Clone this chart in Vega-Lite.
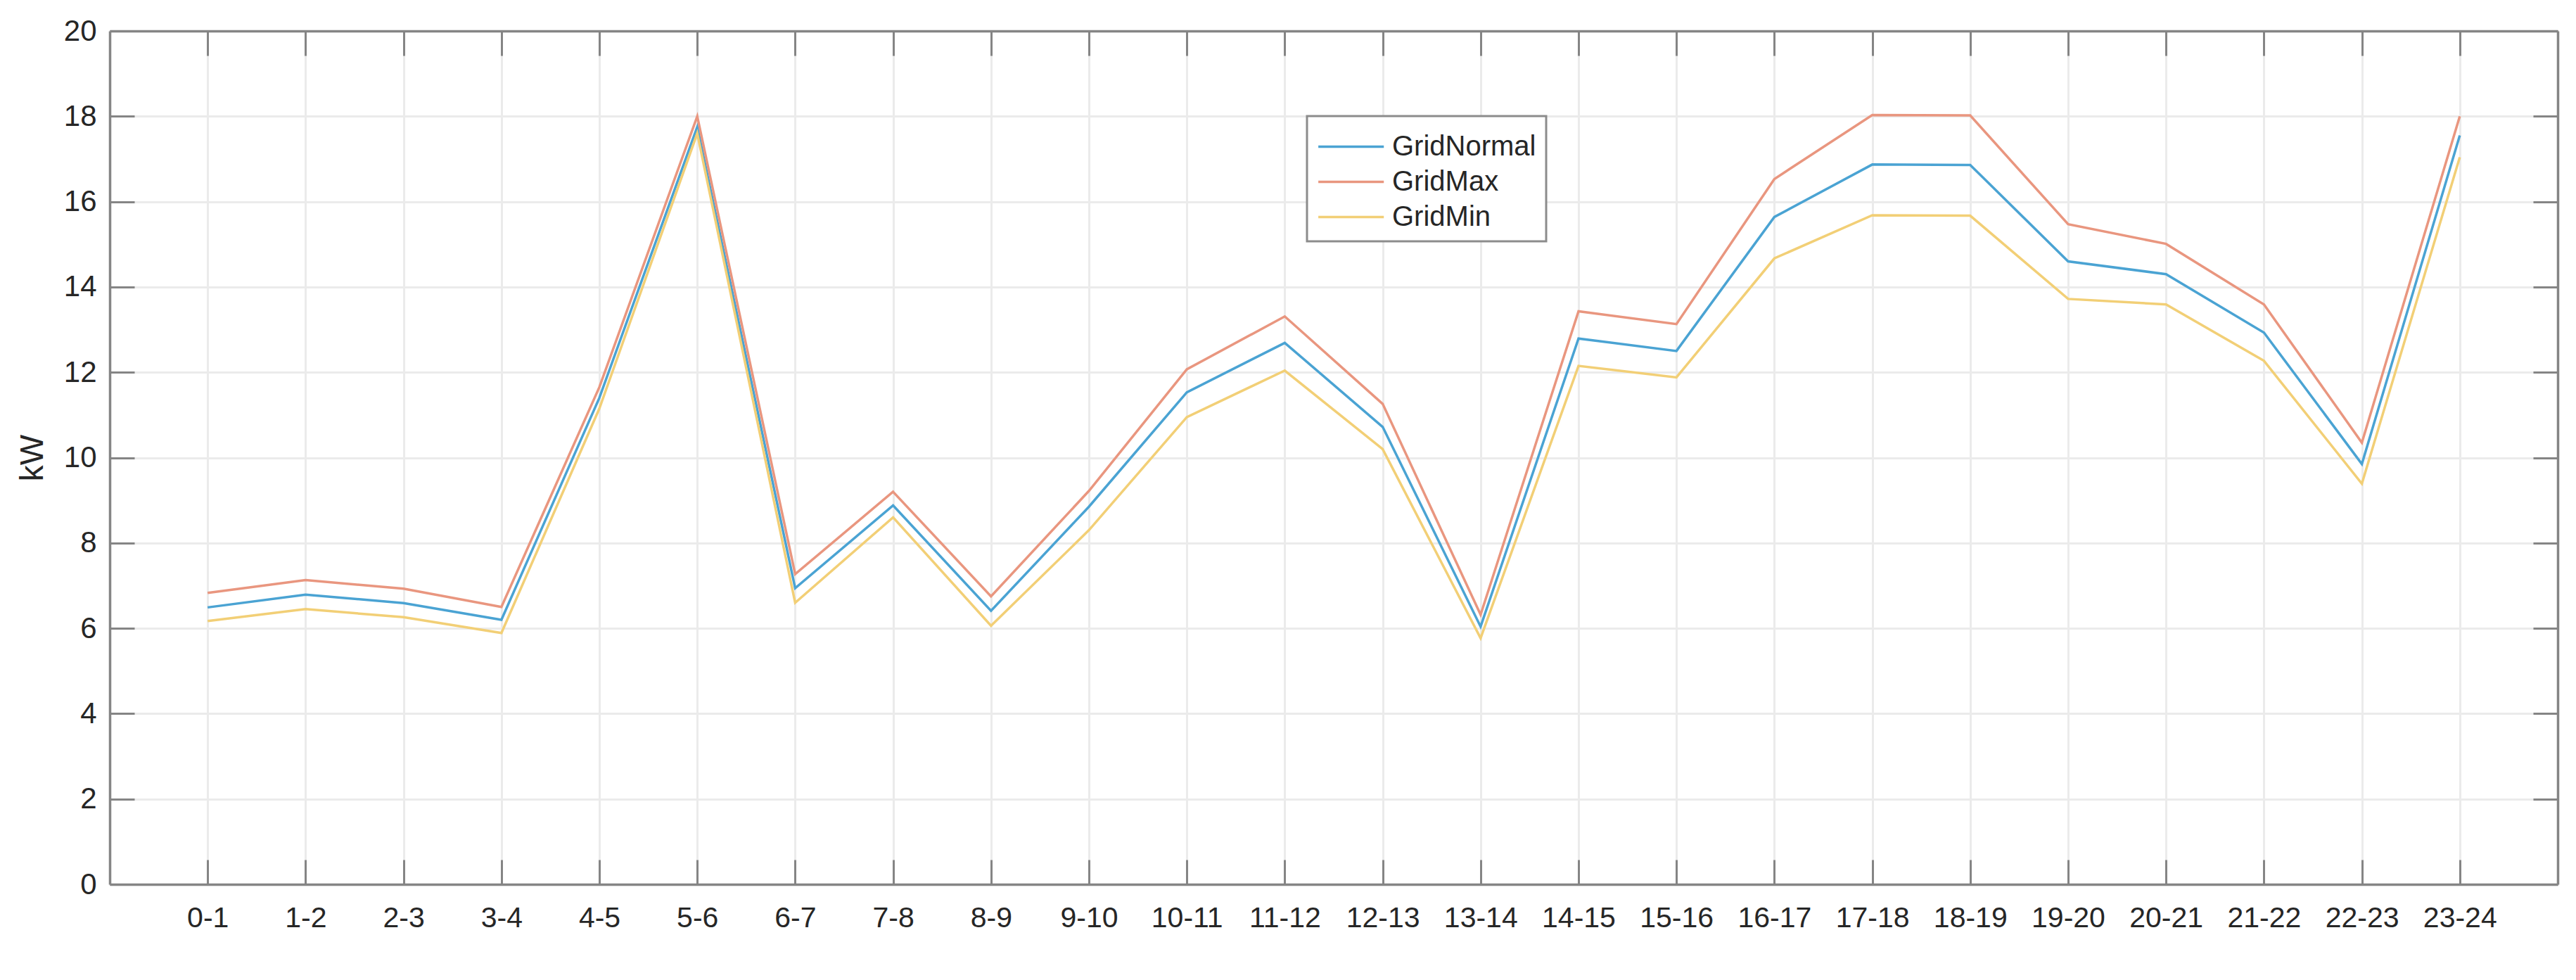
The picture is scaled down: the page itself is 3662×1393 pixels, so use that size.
{
  "$schema": "https://vega.github.io/schema/vega-lite/v6.json",
  "autosize": "none",
  "width": 3480,
  "height": 1213,
  "padding": {"left": 156, "top": 44, "right": 26, "bottom": 136},
  "background": "white",
  "config": {
    "font": "Liberation Sans",
    "view": {"stroke": null},
    "axis": {
      "labelFont": "Liberation Sans",
      "titleFont": "Liberation Sans",
      "labelColor": "#262626",
      "titleColor": "#262626",
      "domainColor": "#858585",
      "domainWidth": 3.5,
      "tickColor": "#858585",
      "tickWidth": 3,
      "gridColor": "#EBEBEB",
      "gridWidth": 3
    }
  },
  "data": {
    "values": [
      {"hour": "0-1", "series": "GridNormal", "kW": 6.49},
      {"hour": "1-2", "series": "GridNormal", "kW": 6.79},
      {"hour": "2-3", "series": "GridNormal", "kW": 6.59},
      {"hour": "3-4", "series": "GridNormal", "kW": 6.2},
      {"hour": "4-5", "series": "GridNormal", "kW": 11.4},
      {"hour": "5-6", "series": "GridNormal", "kW": 17.75},
      {"hour": "6-7", "series": "GridNormal", "kW": 6.94},
      {"hour": "7-8", "series": "GridNormal", "kW": 8.88},
      {"hour": "8-9", "series": "GridNormal", "kW": 6.41},
      {"hour": "9-10", "series": "GridNormal", "kW": 8.85},
      {"hour": "10-11", "series": "GridNormal", "kW": 11.53},
      {"hour": "11-12", "series": "GridNormal", "kW": 12.69},
      {"hour": "12-13", "series": "GridNormal", "kW": 10.72},
      {"hour": "13-14", "series": "GridNormal", "kW": 6.04},
      {"hour": "14-15", "series": "GridNormal", "kW": 12.79},
      {"hour": "15-16", "series": "GridNormal", "kW": 12.5},
      {"hour": "16-17", "series": "GridNormal", "kW": 15.64},
      {"hour": "17-18", "series": "GridNormal", "kW": 16.87},
      {"hour": "18-19", "series": "GridNormal", "kW": 16.86},
      {"hour": "19-20", "series": "GridNormal", "kW": 14.6},
      {"hour": "20-21", "series": "GridNormal", "kW": 14.3},
      {"hour": "21-22", "series": "GridNormal", "kW": 12.93},
      {"hour": "22-23", "series": "GridNormal", "kW": 9.85},
      {"hour": "23-24", "series": "GridNormal", "kW": 17.55},
      {"hour": "0-1", "series": "GridMax", "kW": 6.83},
      {"hour": "1-2", "series": "GridMax", "kW": 7.13},
      {"hour": "2-3", "series": "GridMax", "kW": 6.93},
      {"hour": "3-4", "series": "GridMax", "kW": 6.5},
      {"hour": "4-5", "series": "GridMax", "kW": 11.65},
      {"hour": "5-6", "series": "GridMax", "kW": 18.0},
      {"hour": "6-7", "series": "GridMax", "kW": 7.27},
      {"hour": "7-8", "series": "GridMax", "kW": 9.2},
      {"hour": "8-9", "series": "GridMax", "kW": 6.75},
      {"hour": "9-10", "series": "GridMax", "kW": 9.22},
      {"hour": "10-11", "series": "GridMax", "kW": 12.07},
      {"hour": "11-12", "series": "GridMax", "kW": 13.31},
      {"hour": "12-13", "series": "GridMax", "kW": 11.26},
      {"hour": "13-14", "series": "GridMax", "kW": 6.32},
      {"hour": "14-15", "series": "GridMax", "kW": 13.43},
      {"hour": "15-16", "series": "GridMax", "kW": 13.13},
      {"hour": "16-17", "series": "GridMax", "kW": 16.53},
      {"hour": "17-18", "series": "GridMax", "kW": 18.03},
      {"hour": "18-19", "series": "GridMax", "kW": 18.02},
      {"hour": "19-20", "series": "GridMax", "kW": 15.47},
      {"hour": "20-21", "series": "GridMax", "kW": 15.01},
      {"hour": "21-22", "series": "GridMax", "kW": 13.59},
      {"hour": "22-23", "series": "GridMax", "kW": 10.35},
      {"hour": "23-24", "series": "GridMax", "kW": 18.0},
      {"hour": "0-1", "series": "GridMin", "kW": 6.17},
      {"hour": "1-2", "series": "GridMin", "kW": 6.45},
      {"hour": "2-3", "series": "GridMin", "kW": 6.26},
      {"hour": "3-4", "series": "GridMin", "kW": 5.89},
      {"hour": "4-5", "series": "GridMin", "kW": 11.15},
      {"hour": "5-6", "series": "GridMin", "kW": 17.6},
      {"hour": "6-7", "series": "GridMin", "kW": 6.6},
      {"hour": "7-8", "series": "GridMin", "kW": 8.6},
      {"hour": "8-9", "series": "GridMin", "kW": 6.06},
      {"hour": "9-10", "series": "GridMin", "kW": 8.3},
      {"hour": "10-11", "series": "GridMin", "kW": 10.95},
      {"hour": "11-12", "series": "GridMin", "kW": 12.04},
      {"hour": "12-13", "series": "GridMin", "kW": 10.2},
      {"hour": "13-14", "series": "GridMin", "kW": 5.77},
      {"hour": "14-15", "series": "GridMin", "kW": 12.15},
      {"hour": "15-16", "series": "GridMin", "kW": 11.88},
      {"hour": "16-17", "series": "GridMin", "kW": 14.67},
      {"hour": "17-18", "series": "GridMin", "kW": 15.68},
      {"hour": "18-19", "series": "GridMin", "kW": 15.67},
      {"hour": "19-20", "series": "GridMin", "kW": 13.72},
      {"hour": "20-21", "series": "GridMin", "kW": 13.59},
      {"hour": "21-22", "series": "GridMin", "kW": 12.27},
      {"hour": "22-23", "series": "GridMin", "kW": 9.39},
      {"hour": "23-24", "series": "GridMin", "kW": 17.04}
    ]
  },
  "layer": [
    {
      "mark": {"type": "line", "strokeWidth": 3.5},
      "encoding": {
        "x": {
          "field": "hour", "type": "ordinal", "sort": null,
          "scale": {"type": "point", "padding": 1},
          "axis": {
            "orient": "bottom", "title": null, "labelAngle": 0,
            "labelFontSize": 41, "tickSize": -35, "labelPadding": 63,
            "grid": true
          }
        },
        "y": {
          "field": "kW", "type": "quantitative",
          "scale": {"domain": [0, 20], "nice": false, "zero": true},
          "axis": {
            "orient": "left", "title": "kW", "values": [0, 2, 4, 6, 8, 10, 12, 14, 16, 18, 20],
            "labelFontSize": 42, "titleFontSize": 46, "titleFontWeight": "normal",
            "tickSize": -35, "labelPadding": 54, "titlePadding": 20, "grid": true
          }
        },
        "color": {
          "field": "series", "type": "nominal",
          "scale": {"domain": ["GridNormal", "GridMax", "GridMin"], "range": ["#4AA3D3", "#E9967F", "#F2CF76"]},
          "legend": {
            "title": null,
            "orient": "none",
            "legendX": 1702,
            "legendY": 121,
            "symbolType": "M-1,0H2.4",
            "symbolSize": 3000,
            "symbolStrokeWidth": 3.5,
            "labelFontSize": 40,
            "labelFont": "Liberation Sans",
            "labelColor": "#262626",
            "labelOffset": 48,
            "labelLimit": 600,
            "strokeColor": "#8C8C8C",
            "fillColor": "white",
            "padding": 14,
            "rowPadding": 0,
            "encode": {"legend": {"update": {"strokeWidth": {"value": 3}}}}
          }
        }
      }
    },
    {
      "mark": {"type": "line", "opacity": 0},
      "encoding": {
        "x": {
          "field": "hour", "type": "ordinal", "sort": null,
          "scale": {"type": "point", "padding": 1},
          "axis": {"orient": "top", "title": null, "labels": false, "tickSize": -35, "grid": false}
        },
        "y": {
          "field": "kW", "type": "quantitative",
          "scale": {"domain": [0, 20], "nice": false},
          "axis": {"orient": "right", "title": null, "labels": false, "values": [0, 2, 4, 6, 8, 10, 12, 14, 16, 18, 20], "tickSize": -35, "grid": false}
        },
        "detail": {"field": "series", "type": "nominal"}
      }
    }
  ],
  "resolve": {"axis": {"x": "independent", "y": "independent"}}
}
